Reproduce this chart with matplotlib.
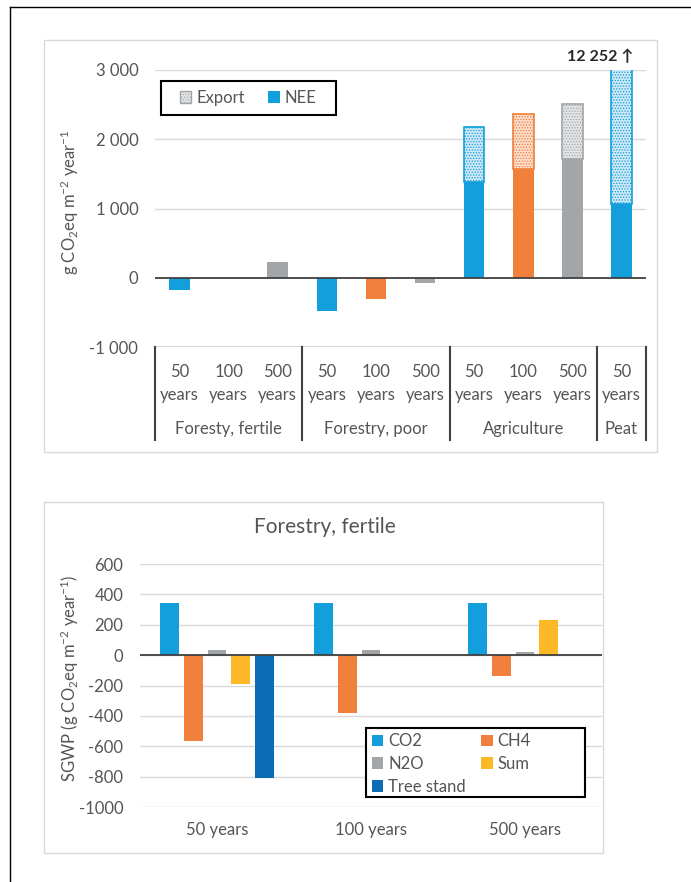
import matplotlib
matplotlib.use("Agg")
import matplotlib.pyplot as plt
from matplotlib.patches import Rectangle, Patch
import numpy as np

plt.rcParams['font.family'] = ['Lato', 'DejaVu Sans']
plt.rcParams['mathtext.fontset'] = 'custom'
plt.rcParams['mathtext.rm'] = 'Lato'
plt.rcParams['mathtext.it'] = 'Lato:italic'
plt.rcParams['axes.unicode_minus'] = False
plt.rcParams['hatch.linewidth'] = 0.6

# --- top chart data
groups = ['Foresty, fertile', 'Forestry, poor', 'Agriculture', 'Peat']
group_sizes = [3, 3, 3, 1]
horizons = ['50', '100', '500', '50', '100', '500', '50', '100', '500', '50']
nee = [-180, 0, 230, -480, -300, -70, 1380, 1570, 1720, 1060]
export = [0, 0, 0, 0, 0, 0, 790, 790, 790, 11192]
peat_total = '12 252 \u2191'

# --- bottom chart data
sgwp_cats = ['50 years', '100 years', '500 years']
sgwp_series = ['CO2', 'CH4', 'N2O', 'Sum', 'Tree stand']
co2 = [345, 345, 345]
ch4 = [-565, -378, -138]
n2o = [32, 32, 22]
ssum = [-190, 0, 228]
tree = [-810, 0, 0]

BLUE = '#139FDB'
ORANGE = '#F0803C'
GREY = '#A2A6A8'
YELLOW = '#FDB827'
DBLUE = '#0B6BB5'
LIGHT = {BLUE: '#cde8f6', ORANGE: '#fbdccb', GREY: '#e3e4e5'}
TXT = '#555555'
GRID = '#d9d9d9'
FS = 12

W, H = 691, 882
fig = plt.figure(figsize=(W / 100, H / 100), dpi=100)

def fx(px):
    return px / W

def fy(py):
    return 1 - py / H

# outer frame (top and left only)
fig.add_artist(plt.Line2D([fx(10), 1], [fy(7), fy(7)], color='black', lw=1))
fig.add_artist(plt.Line2D([fx(10), fx(10)], [fy(7), 0], color='black', lw=1))
# panel boxes
fig.add_artist(Rectangle((fx(44), fy(452)), fx(657) - fx(44), fy(40) - fy(452),
                         transform=fig.transFigure, fill=False, ec=GRID, lw=1))
fig.add_artist(Rectangle((fx(44), fy(853)), fx(603) - fx(44), fy(502) - fy(853),
                         transform=fig.transFigure, fill=False, ec=GRID, lw=1))

# ================= top chart
ax = fig.add_axes([fx(155), fy(347), fx(646) - fx(155), fy(70) - fy(347)])
x = np.arange(len(nee))
cols = [BLUE, ORANGE, GREY] * 3 + [BLUE]
bw = 0.42
ax.bar(x, nee, bw, color=cols, zorder=3)
for xi, n, e, c in zip(x, nee, export, cols):
    if e > 0:
        ax.bar(xi, e, bw, bottom=n, facecolor=LIGHT[c], edgecolor=c,
               hatch='......', lw=1.2, zorder=3)
ax.set_xlim(-0.5, len(nee) - 0.5)
ax.set_ylim(-1000, 3000)
ax.set_yticks([-1000, 0, 1000, 2000, 3000])
ax.set_yticklabels(['-1 000', '0', '1 000', '2 000', '3 000'])
ax.tick_params(axis='y', length=0, pad=12, labelsize=FS, labelcolor=TXT)
ax.set_xticks([])
for s in ax.spines.values():
    s.set_visible(False)
for yv in [1000, 2000, 3000]:
    ax.axhline(yv, color=GRID, lw=1, zorder=1)
ax.axhline(-1000, color=GRID, lw=1.5, zorder=1)
ax.axhline(0, color='#404040', lw=1.3, zorder=4)

ax.text(len(nee) - 1 + 0.25, 3190, peat_total, ha='right', va='center',
        fontsize=11.5, fontweight='bold', color='#262626', clip_on=False)

# multi-level category axis
trans = ax.get_xaxis_transform()
for xi, h in zip(x, horizons):
    ax.text(xi, -0.090, h, transform=trans, ha='center', va='center',
            fontsize=FS, color=TXT, clip_on=False)
    ax.text(xi, -0.172, 'years', transform=trans, ha='center', va='center',
            fontsize=FS, color=TXT, clip_on=False)
edges = np.concatenate([[0], np.cumsum(group_sizes)]) - 0.5
for ed in edges:
    ax.plot([ed, ed], [0, -0.336], transform=trans, color='#404040', lw=1.5,
            clip_on=False)
for g, a, b in zip(groups, edges[:-1], edges[1:]):
    ax.text((a + b) / 2, -0.295, g, transform=trans, ha='center', va='center',
            fontsize=FS, color=TXT, clip_on=False)

handles = [Patch(facecolor=LIGHT[GREY], edgecolor=GREY, hatch='......', label='Export'),
           Patch(facecolor=BLUE, label='NEE')]
leg = ax.legend(handles=handles, ncol=2, loc='center', bbox_to_anchor=(0.19, 0.899),
                fontsize=FS, frameon=False, handlelength=0.7, handleheight=0.7,
                handletextpad=0.3, columnspacing=1.4, borderpad=0)
for t in leg.get_texts():
    t.set_color(TXT)
ax.add_patch(Rectangle((0.012, 0.838), 0.356, 0.122, transform=ax.transAxes,
                       fill=False, ec='black', lw=1.5, clip_on=False, zorder=5))

fig.text(fx(70), fy(202), 'g CO$_2$eq m$^{-2}$ year$^{-1}$', rotation=90,
         ha='center', va='center', fontsize=FS, color=TXT)

# ================= bottom chart
ax2 = fig.add_axes([fx(140), fy(807), fx(602) - fx(140), fy(564) - fy(807)])
xc = np.arange(len(sgwp_cats))
step = 0.154
w2 = 0.123
vals = [co2, ch4, n2o, ssum, tree]
colors2 = [BLUE, ORANGE, GREY, YELLOW, DBLUE]
bars = []
for i, (v, c, lab) in enumerate(zip(vals, colors2, sgwp_series)):
    b = ax2.bar(xc + (i - 2) * step, v, w2, color=c, label=lab, zorder=3)
    bars.append(b)
ax2.set_xlim(-0.5, len(sgwp_cats) - 0.5)
ax2.set_ylim(-1000, 600)
ax2.set_yticks(np.arange(-1000, 601, 200))
for s in ax2.spines.values():
    s.set_visible(False)
ax2.yaxis.grid(True, color=GRID, lw=1, zorder=1)
ax2.set_axisbelow(True)
ax2.axhline(0, color='#404040', lw=1.3, zorder=4)
ax2.set_xticks(xc)
ax2.set_xticklabels(sgwp_cats)
ax2.tick_params(axis='both', length=0, labelsize=FS, labelcolor=TXT)
ax2.tick_params(axis='y', pad=12)
ax2.tick_params(axis='x', pad=11)

# legend box: x 366-585 px, y 728-797 px
bx0, bx1 = (366 - 140) / 462, (585 - 140) / 462
by0, by1 = (807 - 797) / 243, (807 - 728) / 243
order = [0, 2, 4, 1, 3]
leg2 = ax2.legend([bars[i] for i in order], [sgwp_series[i] for i in order],
                  ncol=2, loc='upper left', bbox_to_anchor=(bx0 + 0.012, by1 - 0.022),
                  fontsize=FS, frameon=False, handlelength=0.7, handleheight=0.7,
                  handletextpad=0.3, labelspacing=0.4, columnspacing=0.9,
                  borderpad=0, borderaxespad=0)
for t in leg2.get_texts():
    t.set_color(TXT)
leg2.set_zorder(6)
ax2.add_patch(Rectangle((bx0, by0), bx1 - bx0, by1 - by0, transform=ax2.transAxes,
                        facecolor='white', ec='black', lw=1.5, clip_on=False, zorder=5))

fig.text(fx(325), fy(527), 'Forestry, fertile', ha='center', va='center',
         fontsize=15, color=TXT)
fig.text(fx(70), fy(678), 'SGWP (g CO$_2$eq m$^{-2}$ year$^{-1}$)', rotation=90,
         ha='center', va='center', fontsize=FS, color=TXT)

fig.savefig('out.png', dpi=100)
